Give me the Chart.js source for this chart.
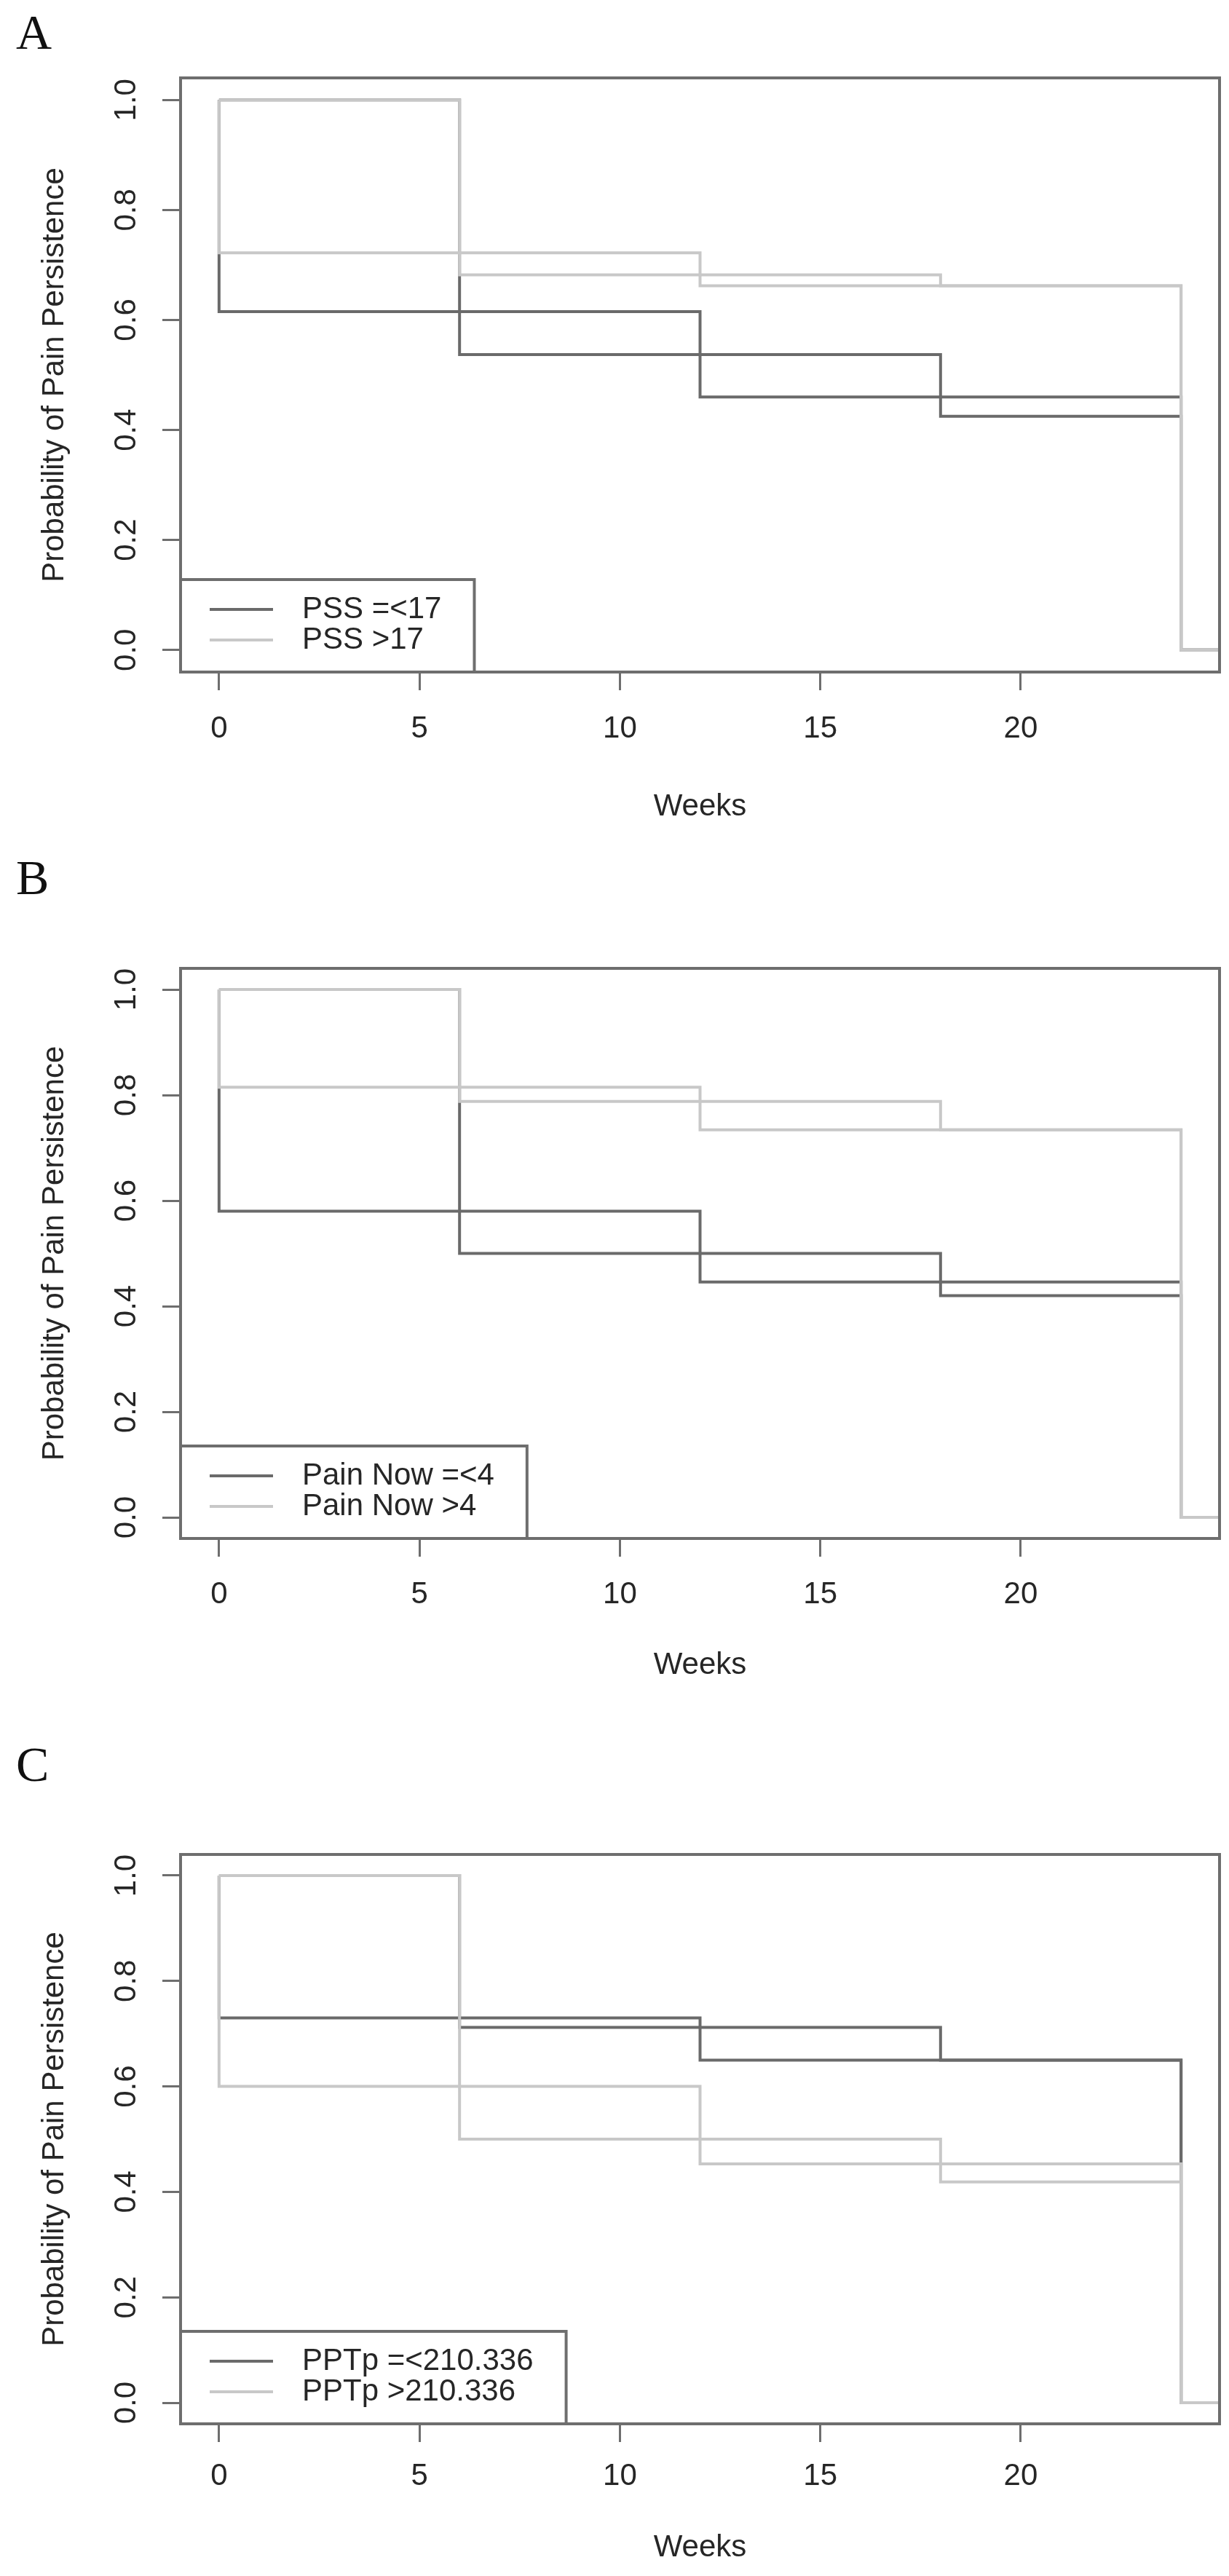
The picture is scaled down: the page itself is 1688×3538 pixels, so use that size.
<!DOCTYPE html>
<html>
<head>
<meta charset="utf-8">
<script src="https://cdn.jsdelivr.net/npm/chart.js@4.4.1/dist/chart.umd.min.js"></script>
<style>
  html, body { margin: 0; padding: 0; background: #fff; }
  body { position: relative; width: 1688px; height: 3538px; overflow: hidden; }
  canvas { position: absolute; left: 0; }
  .tag { position: absolute; left: 22px; font-family: "Liberation Serif", "DejaVu Serif", serif; font-size: 68px; line-height: 1; color: #111; }
</style>
</head>
<body>
<div class="tag" style="top:10px">A</div>
<div class="tag" style="top:1171px">B</div>
<div class="tag" style="top:2389px">C</div>
<canvas id="panelA" width="1688" height="1170" style="top:0px"></canvas>
<canvas id="panelB" width="1688" height="1180" style="top:1170px"></canvas>
<canvas id="panelC" width="1688" height="1188" style="top:2350px"></canvas>
<script>
// step curves: one starts dropping at week 0, the other at week 6
var weeksFrom0 = [0, 0, 12, 24, 25];
var weeksFrom6 = [0, 6, 18, 24, 25];
var xTicks = [0, 5, 10, 15, 20];
var yTicks = [0, 0.2, 0.4, 0.6, 0.8, 1];
var yTickLabels = ['0.0', '0.2', '0.4', '0.6', '0.8', '1.0'];

// A - PSS
var pssLowFrom0 = [1, 0.615, 0.46, 0, 0];
var pssLowFrom6 = [1, 0.537, 0.425, 0, 0];
var pssHighFrom0 = [1, 0.722, 0.662, 0, 0];
var pssHighFrom6 = [1, 0.682, 0.662, 0, 0];
var pssLabels = ['PSS =<17', 'PSS >17'];

// B - Pain Now
var painLowFrom0 = [1, 0.58, 0.446, 0, 0];
var painLowFrom6 = [1, 0.5, 0.42, 0, 0];
var painHighFrom0 = [1, 0.815, 0.734, 0, 0];
var painHighFrom6 = [1, 0.788, 0.734, 0, 0];
var painLabels = ['Pain Now =<4', 'Pain Now >4'];

// C - PPTp
var pptLowFrom0 = [1, 0.73, 0.65, 0, 0];
var pptLowFrom6 = [1, 0.712, 0.65, 0, 0];
var pptHighFrom0 = [1, 0.6, 0.453, 0, 0];
var pptHighFrom6 = [1, 0.5, 0.419, 0, 0];
var pptLabels = ['PPTp =<210.336', 'PPTp >210.336'];

var dark = '#6a6a6a';
var light = '#c8c8c8';
var frame = '#6e6e6e';
var textCol = '#262626';
var fontFam = '"Liberation Sans", Arial, Helvetica, sans-serif';

Chart.defaults.font.family = fontFam;

function steps(times, values) {
  return times.map(function (t, i) { return { x: t, y: values[i] }; });
}

function curve(points, color) {
  return {
    data: points,
    borderColor: color,
    borderWidth: 4,
    pointRadius: 0,
    stepped: 'before',
    fill: false,
    clip: 0,
    borderJoinStyle: 'miter'
  };
}

function framePlugin(labels) {
  return {
    id: 'rbox',
    afterDraw: function (chart) {
      var ctx = chart.ctx;
      var a = chart.chartArea;
      ctx.save();
      ctx.strokeStyle = frame;
      ctx.lineWidth = 4;
      ctx.strokeRect(a.left, a.top, a.right - a.left, a.bottom - a.top);

      // legend box, bottom left
      ctx.font = '42px ' + fontFam;
      var textX = a.left + 167;
      var w = Math.max.apply(null, labels.map(function (l) { return ctx.measureText(l).width; }));
      var boxRight = textX + w + 45;
      var boxTop = a.bottom - 127;
      ctx.strokeRect(a.left, boxTop, boxRight - a.left, a.bottom - boxTop);

      var rows = [a.bottom - 86, a.bottom - 44];
      var cols = [dark, light];
      ctx.textBaseline = 'middle';
      ctx.textAlign = 'left';
      for (var i = 0; i < labels.length; i++) {
        ctx.strokeStyle = cols[i];
        ctx.beginPath();
        ctx.moveTo(a.left + 40, rows[i]);
        ctx.lineTo(a.left + 127, rows[i]);
        ctx.stroke();
        ctx.fillStyle = textCol;
        ctx.fillText(labels[i], textX, rows[i]);
      }
      ctx.restore();
    }
  };
}

function panel(id, lay, low0, low6, high0, high6, labels) {
  var canvas = document.getElementById(id);
  var H = canvas.height;
  new Chart(canvas.getContext('2d'), {
    type: 'line',
    data: {
      datasets: [
        curve(steps(weeksFrom0, high0), light),
        curve(steps(weeksFrom6, high6), light),
        curve(steps(weeksFrom0, low0), dark),
        curve(steps(weeksFrom6, low6), dark)
      ]
    },
    options: {
      responsive: false,
      animation: false,
      devicePixelRatio: 1,
      events: [],
      layout: { padding: { top: lay.top, right: 13, left: 0, bottom: 0 } },
      plugins: { legend: { display: false }, tooltip: { enabled: false } },
      scales: {
        x: {
          type: 'linear',
          min: -0.96,
          max: 24.96,
          afterBuildTicks: function (s) { s.ticks = xTicks.map(function (v) { return { value: v }; }); },
          afterFit: function (s) { s.height = H - lay.bottom; },
          grid: { drawOnChartArea: false, drawTicks: true, tickLength: 25, tickWidth: 3, tickColor: frame },
          border: { display: false },
          ticks: {
            autoSkip: false, maxRotation: 0, padding: lay.tickPad, color: textCol,
            font: { size: 42 },
            callback: function (v) { return String(v); }
          },
          title: { display: true, text: 'Weeks', color: textCol, font: { size: 42 }, padding: { top: 0, bottom: lay.titlePad } }
        },
        y: {
          type: 'linear',
          min: -0.04,
          max: 1.04,
          afterBuildTicks: function (s) { s.ticks = yTicks.map(function (v) { return { value: v }; }); },
          afterFit: function (s) { s.width = 248; },
          grid: { drawOnChartArea: false, drawTicks: true, tickLength: 25, tickWidth: 3, tickColor: frame },
          border: { display: false },
          ticks: {
            autoSkip: false, minRotation: 90, maxRotation: 90, crossAlign: 'center', padding: 19,
            color: textCol, font: { size: 42 },
            callback: function (v, i) { return yTickLabels[i]; }
          },
          title: { display: true, text: 'Probability of Pain Persistence', color: textCol, font: { size: 42 }, padding: { top: 50, bottom: 0 } }
        }
      }
    },
    plugins: [framePlugin(labels)]
  });
}

panel('panelA', { top: 107, bottom: 923, tickPad: 28, titlePad: 36 }, pssLowFrom0, pssLowFrom6, pssHighFrom0, pssHighFrom6, pssLabels);
panel('panelB', { top: 160, bottom: 943, tickPad: 27, titlePad: 37 }, painLowFrom0, painLowFrom6, painHighFrom0, painHighFrom6, painLabels);
panel('panelC', { top: 197, bottom: 979, tickPad: 22, titlePad: 13 }, pptLowFrom0, pptLowFrom6, pptHighFrom0, pptHighFrom6, pptLabels);
</script>
</body>
</html>
